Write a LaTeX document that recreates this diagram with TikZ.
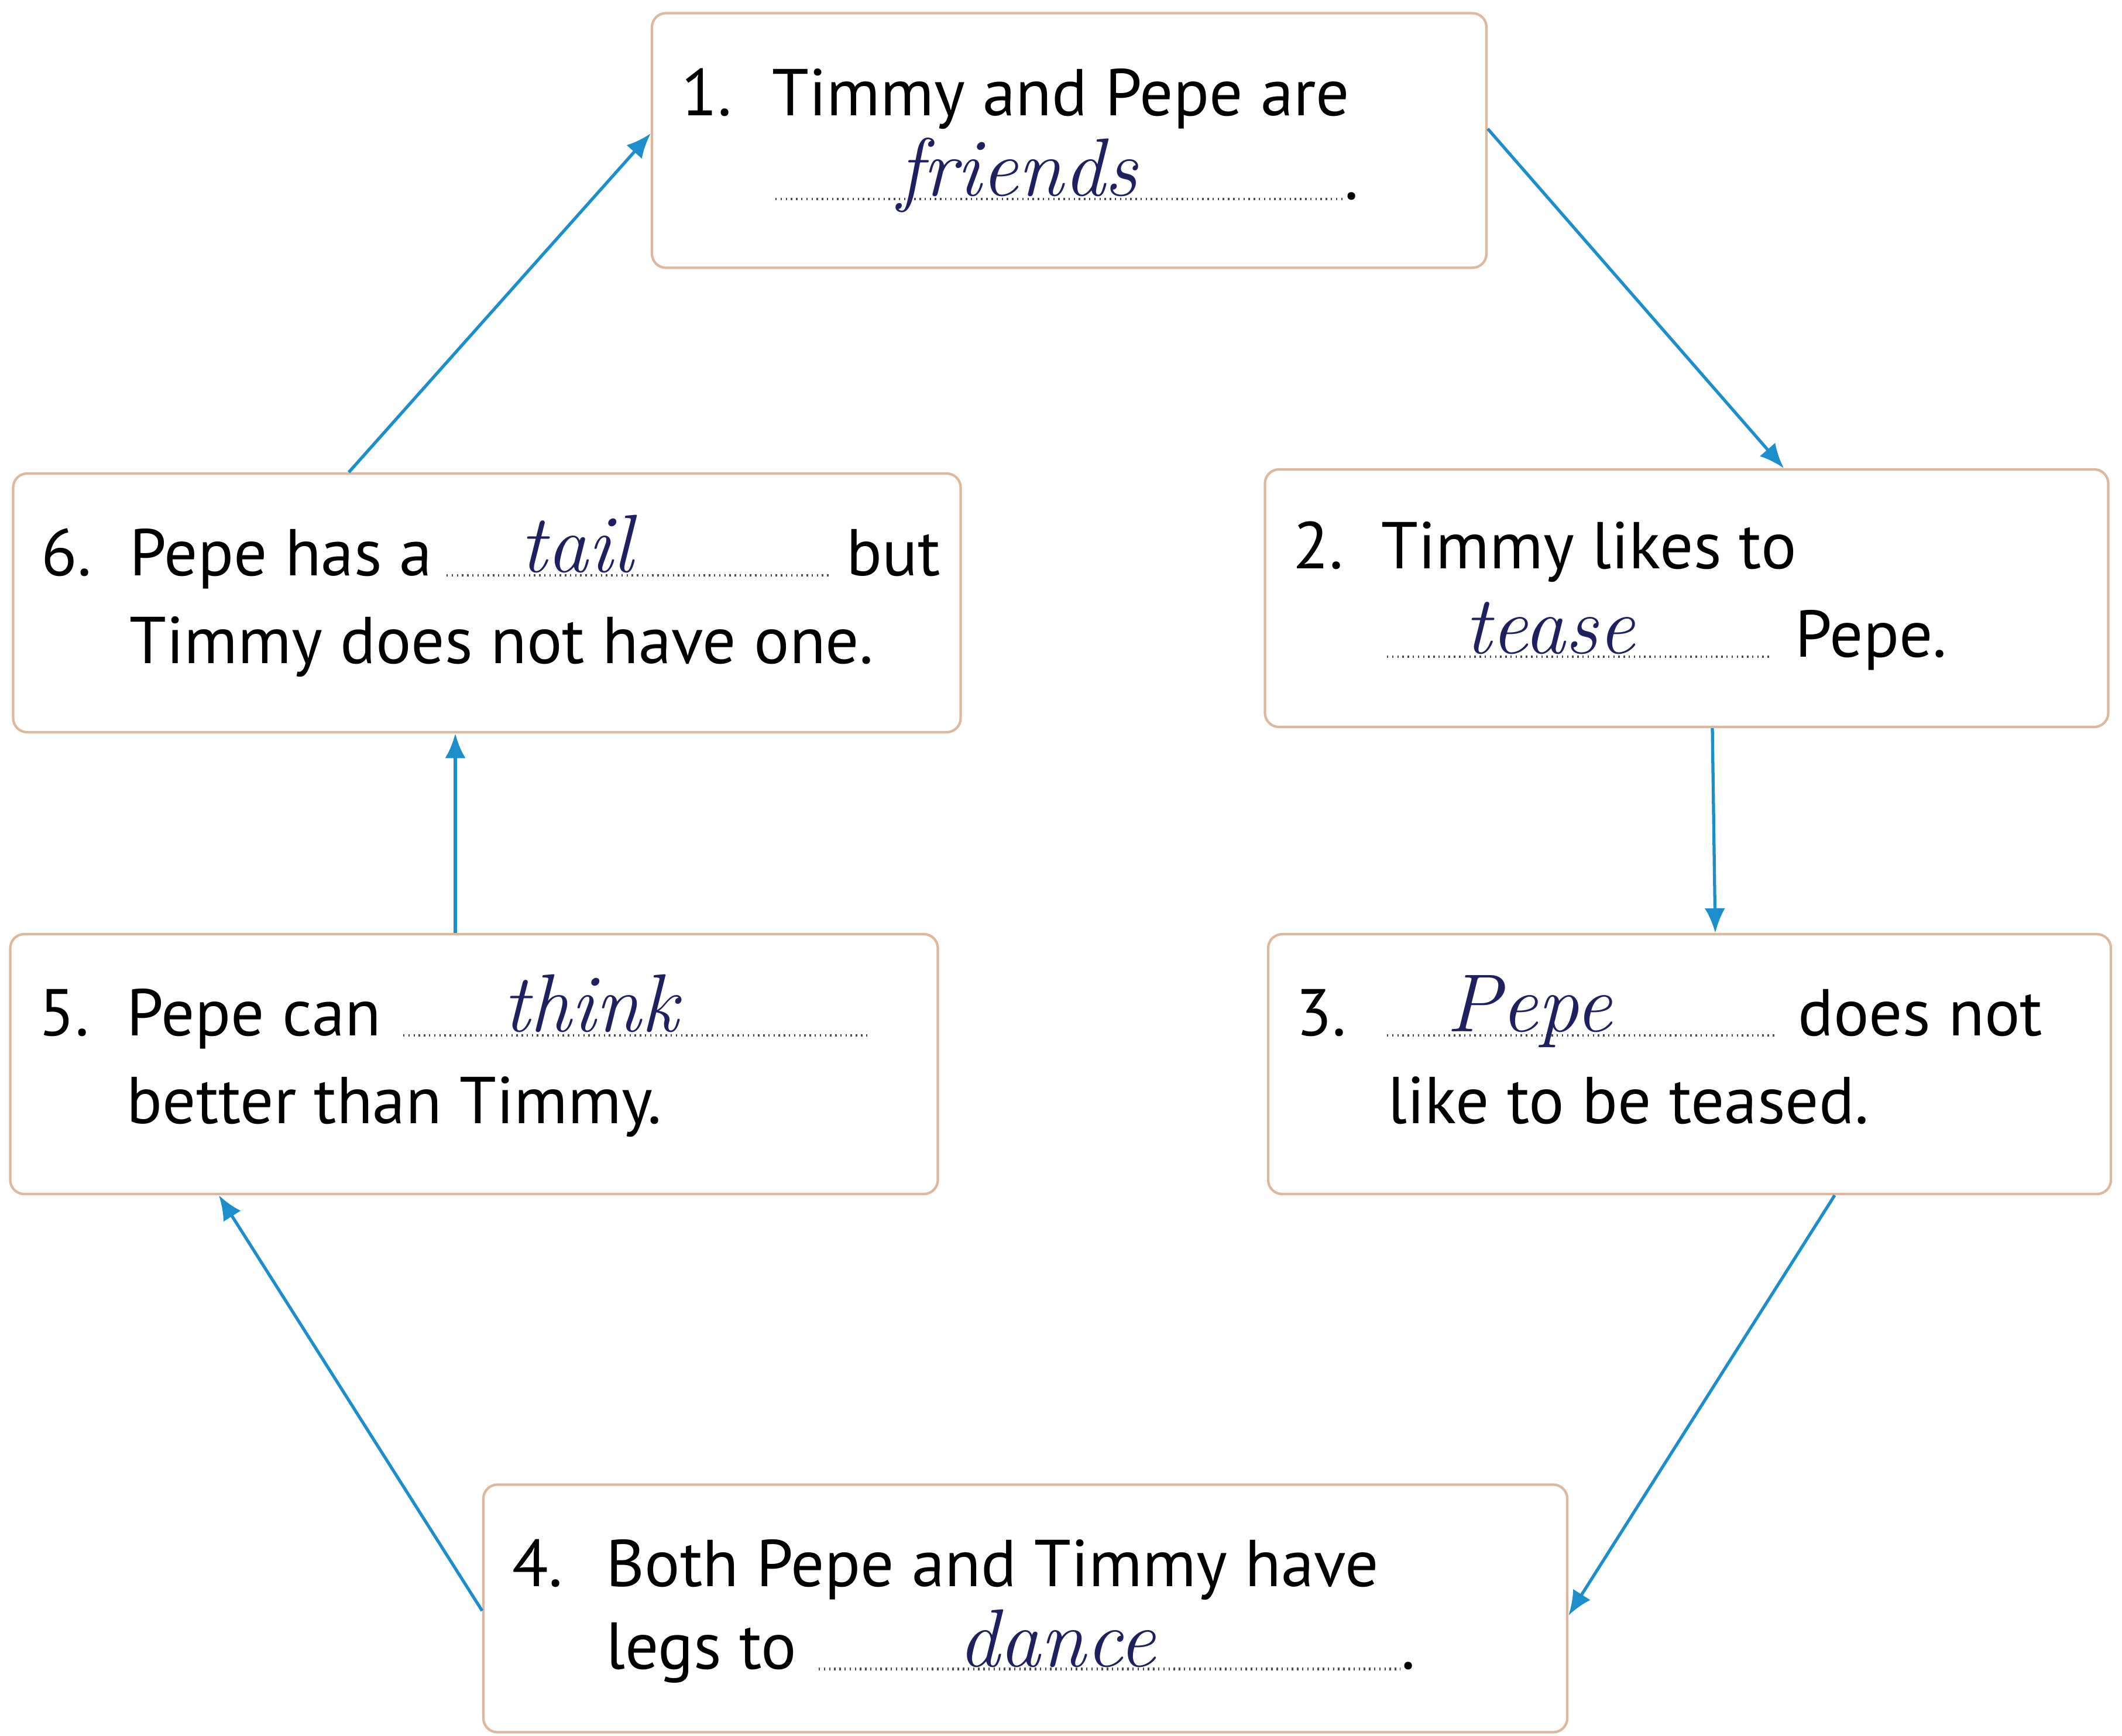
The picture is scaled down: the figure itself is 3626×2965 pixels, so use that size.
\documentclass[tikz,border=0pt]{standalone}
\usepackage{fontspec}
\setsansfont{PT Sans}
\usetikzlibrary{arrows.meta}
\definecolor{boxline}{RGB}{222,184,156}
\definecolor{arrowblue}{RGB}{28,142,204}
\definecolor{ink}{RGB}{30,32,95}
\def\print{\sffamily\fontsize{16.1}{20}\selectfont}
\def\hand{\rmfamily\itshape\fontsize{20}{20}\selectfont}

\begin{document}
\begin{tikzpicture}[x=0.05mm,y=-0.05mm,
  box/.style={draw=boxline,line width=0.6pt,rounded corners=1.2mm,inner sep=0pt},
  txt/.style={anchor=base west,inner sep=0pt,font=\print},
  word/.style={anchor=base,inner sep=0pt,font=\hand,text=ink},
  blank/.style={line width=0.7pt,dash pattern=on 0.35pt off 0.9pt,gray!60!black},
  arr/.style={arrowblue,line width=0.75pt,-{Latex[length=6pt,width=5pt]}}]
\useasboundingbox (0,0) rectangle (3626,2965);

%the six boxes
\node[box,minimum width=71.3mm,minimum height=21.75mm] (b1) at (1827,240) {};
\node[box,minimum width=72.05mm,minimum height=22mm] (b2) at (2882,1022) {};
\node[box,minimum width=72mm,minimum height=22.2mm] (b3) at (2887,1818) {};
\node[box,minimum width=92.6mm,minimum height=21.15mm] (b4) at (1752,2748) {};
\node[box,minimum width=79.25mm,minimum height=22.2mm] (b5) at (810,1818) {};
\node[box,minimum width=80.95mm,minimum height=22.1mm] (b6) at (832,1030) {};

%dotted blanks
\draw[blank] (1325,340) -- (2296,340);
\draw[blank] (2370,1122) -- (3025,1122);
\draw[blank] (2370,1769) -- (3034,1769);
\draw[blank] (1399,2851) -- (2393,2851);
\draw[blank] (689,1769) -- (1487,1769);
\draw[blank] (763,983) -- (1418,983);

%printed text
\node[txt] (n1) at (1163,197) {1.};
\node[txt] (t1) at (1318,197) {Timmy and Pepe are};
\node[txt] (p1) at (2296,340) {.};
\node[txt] (n2) at (2208,971) {2.};
\node[txt] (t2) at (2359,971) {Timmy likes to};
\node[txt] (s2) at (3066,1122) {Pepe.};
\node[txt] (n3) at (2213,1769) {3.};
\node[txt] (t3) at (3071,1769) {does not};
\node[txt] (s3) at (2370,1919) {like to be teased.};
\node[txt] (n4) at (874,2710) {4.};
\node[txt] (t4) at (1034,2710) {Both Pepe and Timmy have};
\node[txt] (s4) at (1034,2851) {legs to};
\node[txt] (p4) at (2393,2851) {.};
\node[txt] (n5) at (65,1769) {5.};
\node[txt] (t5) at (215,1769) {Pepe can};
\node[txt] (s5) at (215,1919) {better than Timmy.};
\node[txt] (n6) at (69,983) {6.};
\node[txt] (t6) at (220,983) {Pepe has a};
\node[txt] (u6) at (1445,983) {but};
\node[txt] (s6) at (220,1133) {Timmy does not have one.};

%handwritten answers
\node[word] (w1) at (1739,334) {friends};
\node[word] (w2) at (2648,1116) {tease};
\node[word] (w3) at (2613,1762) {Pepe};
\node[word] (w4) at (1806,2847) {dance};
\node[word] (w5) at (1009,1762) {think};
\node[word] (w6) at (985,977) {tail};

%arrows round the cycle
\draw[arr] ([yshift=1mm]b1.east) -- ([xshift=8.3mm]b2.north);
\draw[arr] ([xshift=2.2mm]b2.south) -- ([xshift=2.2mm]b3.north);
\draw[arr] ([xshift=12.4mm]b3.south) -- ([yshift=-0.6mm]b4.east);
\draw[arr] ([yshift=-0.2mm]b4.west) -- ([xshift=-21.8mm]b5.south);
\draw[arr] ([xshift=-1.6mm]b5.north) -- ([xshift=-1.6mm]b5.north |- b6.south);
\draw[arr] ([xshift=-11.8mm]b6.north) -- ([yshift=0.6mm]b1.west);
\end{tikzpicture}
\end{document}
